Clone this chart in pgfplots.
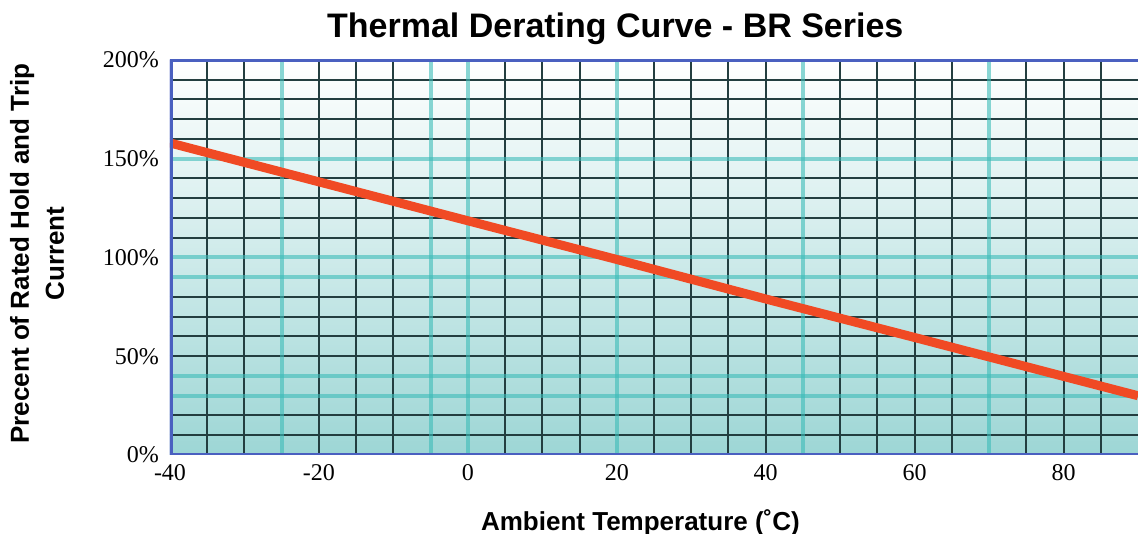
\documentclass[border=0pt]{standalone}
\usepackage{pgfplots}
\pgfplotsset{compat=1.18}
\usepackage{fontspec}
\setmainfont{Liberation Serif}
\newfontfamily\hv{Liberation Sans}

\definecolor{frameblue}{RGB}{74,96,192}
\definecolor{gridgray}{RGB}{35,62,64}
\definecolor{gridteal}{RGB}{60,188,184}
\definecolor{bgbottom}{RGB}{157,214,213}
\definecolor{bgmid}{RGB}{203,234,235}
\definecolor{curve}{RGB}{240,74,36}

\begin{document}
\begin{tikzpicture}
\begin{axis}[
    scale only axis,
    width=484pt, height=197.5pt,
    xmin=-40, xmax=90,
    ymin=0, ymax=200,
    axis line style={draw=none},
    axis background/.style={shade, top color=white, middle color=bgmid, bottom color=bgbottom},
    xtick={-40,-20,...,80},
    ytick={0,50,...,200},
    yticklabel={\pgfmathprintnumber{\tick}\%},
    minor xtick={-35,-30,-20,-15,-10,5,10,15,25,30,35,40,50,55,60,65,75,80,85},
    minor ytick={10,20,50,60,70,80,110,120,130,140,160,170,180,190},
    xmajorgrids=false, ymajorgrids=false,
    xminorgrids=true, yminorgrids=true,
    minor grid style={gridgray, line width=1pt},
    major tick length=0pt, minor tick length=0pt,
    extra x ticks={-25,-5,0,20,45,70},
    extra y ticks={30,40,90,100,150},
    extra x tick labels={}, extra y tick labels={},
    extra tick style={grid=major, major grid style={gridteal, opacity=0.6, line width=2pt}},
    /pgf/number format/assume math mode=true,
    tick label style={font=\fontsize{12}{14}\selectfont},
    xticklabel style={yshift=-1pt},
    yticklabel style={xshift=-2pt},
    xlabel={Ambient Temperature (˚C)},
    xlabel style={font=\hv\bfseries\fontsize{13}{15}\selectfont, at={(axis description cs:0.486,-0.12)}, anchor=north},
    ylabel={Precent of Rated Hold and Trip\\Current},
    ylabel style={font=\hv\bfseries\fontsize{13}{17.5}\selectfont, align=center, at={(axis description cs:-0.102,0.51)}, anchor=south},
    title={Thermal Derating Curve - BR Series},
    title style={font=\hv\bfseries\fontsize{17}{19}\selectfont, at={(axis description cs:0.46,1.026)}, anchor=base},
    clip=true,
]
\addplot[curve, line width=4.5pt] coordinates {
    (-40, 158)
    (0, 118.6)
    (20, 99)
    (40, 79)
    (60, 59.5)
    (80, 39.8)
    (90, 30)
};
\draw[frameblue, line width=2pt] (rel axis cs:1,1) -- (rel axis cs:0,1) -- (rel axis cs:0,0) -- (rel axis cs:1,0);
\draw[frameblue, line width=3pt] (rel axis cs:0,0) -- (rel axis cs:0,1);
\end{axis}
\pgfresetboundingbox
\path (current axis.south west) ++(-85pt,-39.5pt) rectangle ++(569pt,267pt);
\end{tikzpicture}
\end{document}
